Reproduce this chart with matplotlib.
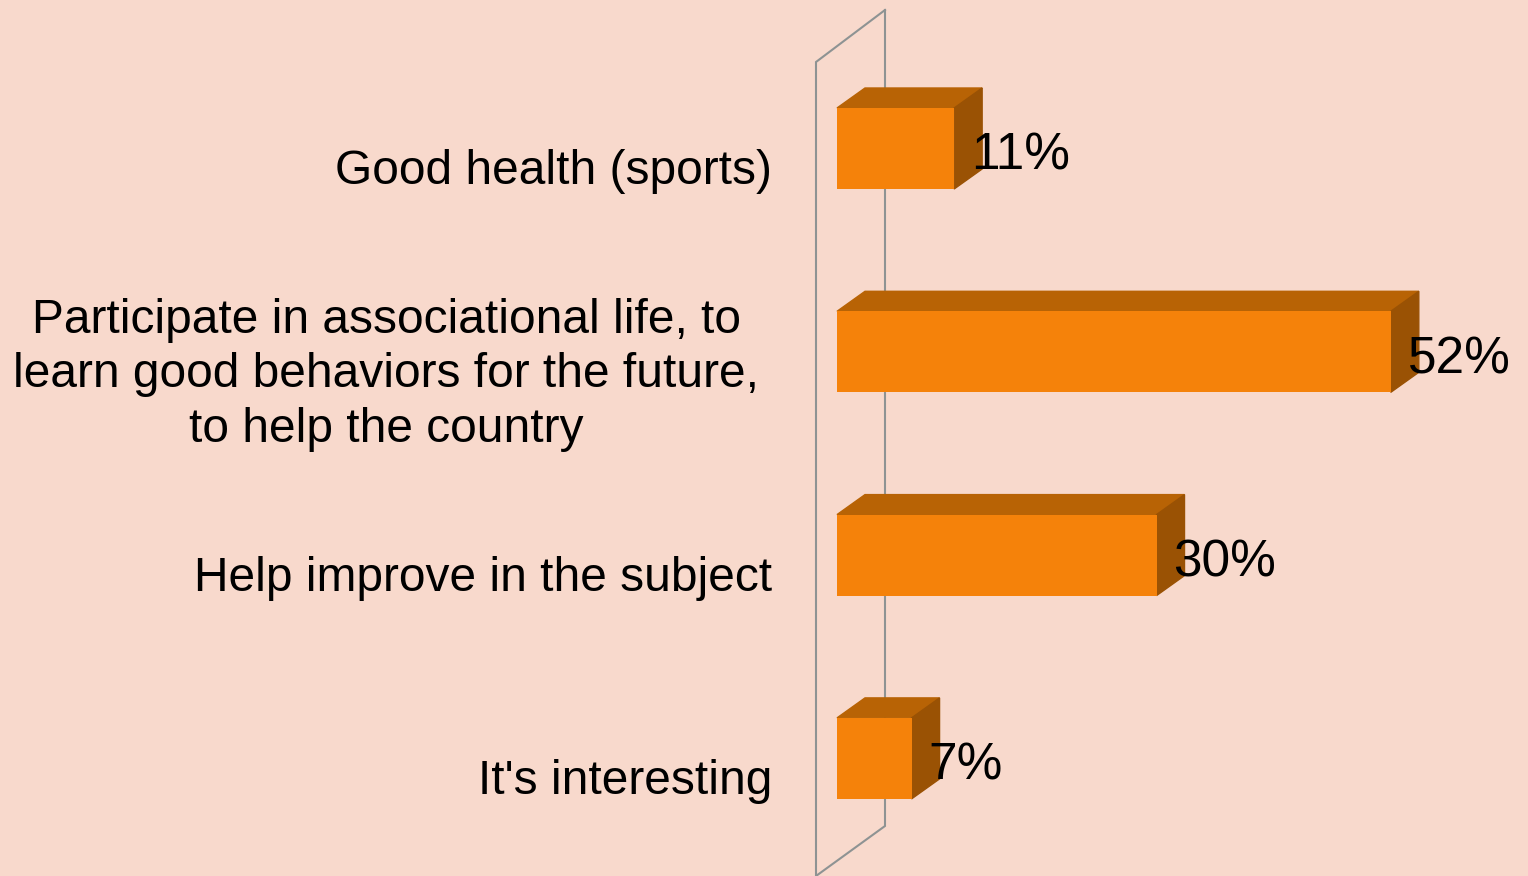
import numpy as np
import matplotlib.pyplot as plt
from matplotlib.patches import Polygon

# survey answers and their shares (%)
categories = ["Good health (sports)",
              "Participate in associational life, to\nlearn good behaviors for the future,\nto help the country",
              "Help improve in the subject",
              "It's interesting"]
values = [11, 52, 30, 7]
value_labels = ["11%", "52%", "30%", "7%"]

bg = "#F8D9CC"
front_col = "#F5820A"
top_col = "#B86305"
side_col = "#9A5204"
wall_col = "#8E9393"

fig = plt.figure(figsize=(15.28, 8.76), dpi=100, facecolor=bg)
ax = fig.add_axes([0, 0, 1, 1])
ax.set_facecolor(bg)

# one % = 10.65 px, zero sits at px 837; category rows 203.3 px apart
px_per = 10.65
ax.set_xlim(-837 / px_per, (1528 - 837) / px_per)
ax.set_ylim((876 - 148.5) / 203.3, -148.5 / 203.3)
ax.axis("off")

ypx = 1 / 203.3
bar_h = 81 * ypx
dx, dy = 28 / px_per, -20 * ypx

# back wall (drawn as an outline)
wx0, wx1 = -21 / px_per, 48 / px_per
wall_x = [wx1, wx0, wx0, wx1, wx1]
wall_y = [(10 - 148.5) * ypx, (62 - 148.5) * ypx, (876 - 148.5) * ypx,
          (826 - 148.5) * ypx, (10 - 148.5) * ypx]
ax.plot(wall_x, wall_y, color=wall_col, lw=1.5, solid_joinstyle="miter", zorder=1)

y = np.arange(len(values))
ax.barh(y, values, height=bar_h, color=front_col, zorder=3)

for i, v in enumerate(values):
    top = y[i] - bar_h / 2
    bot = y[i] + bar_h / 2
    ax.add_patch(Polygon([(0, top), (dx, top + dy), (v + dx, top + dy), (v, top)],
                         closed=True, color=top_col, zorder=2))
    ax.add_patch(Polygon([(v, top), (v + dx, top + dy), (v + dx, bot + dy), (v, bot)],
                         closed=True, color=side_col, zorder=2))
    ax.text(v + 17 / px_per, y[i] + 8 * ypx, value_labels[i], fontsize=37,
            family="Liberation Sans", ha="left", va="center", zorder=4)
    # wrapped labels sit a little further left
    lx = -78 if "\n" in categories[i] else -65
    ax.text(lx / px_per, y[i] + 23 * ypx, categories[i], fontsize=34.5,
            family="Liberation Sans", ha="right", va="center", multialignment="center",
            linespacing=1.27, zorder=4)

fig.savefig("out.png", dpi=100, facecolor=bg)
